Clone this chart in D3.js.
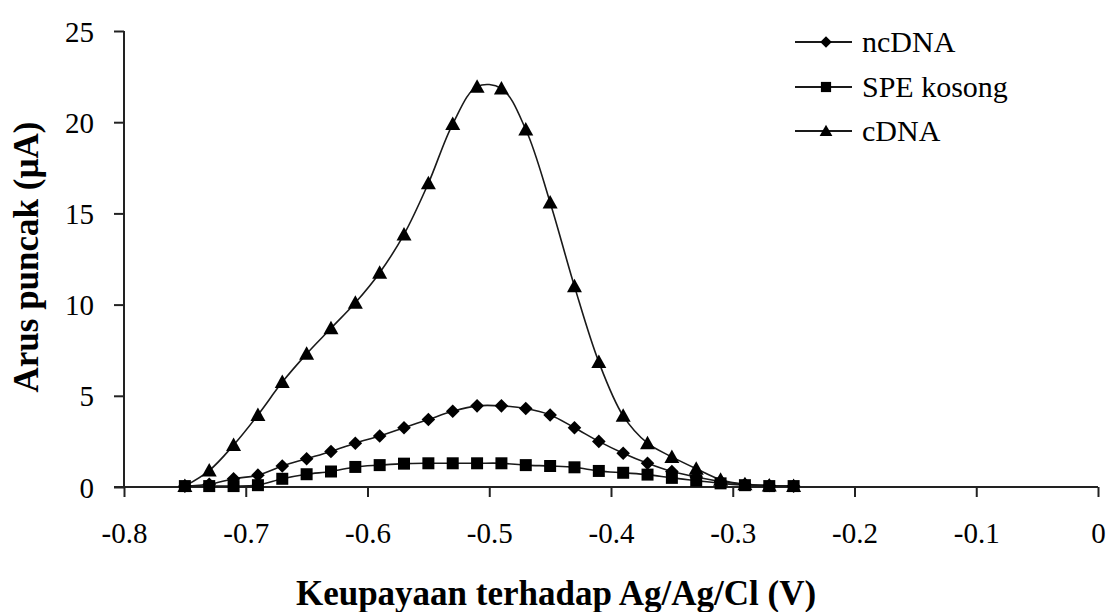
<!DOCTYPE html>
<html>
<head>
<meta charset="utf-8">
<script src="https://cdn.jsdelivr.net/npm/d3@7"></script>
<style>
  html, body { margin: 0; padding: 0; background: #fff; }
  svg { display: block; }
  text { font-family: "Liberation Serif", "Times New Roman", serif; fill: #000; }
</style>
</head>
<body>
<svg id="chart" width="1106" height="612"></svg>
<script>
const potentials = [-0.75, -0.73, -0.71, -0.69, -0.67, -0.65, -0.63, -0.61, -0.59, -0.57, -0.55, -0.53, -0.51,
                    -0.49, -0.47, -0.45, -0.43, -0.41, -0.39, -0.37, -0.35, -0.33, -0.31, -0.29, -0.27, -0.25];
const ncDNA = [0.05, 0.15, 0.45, 0.65, 1.15, 1.55, 1.95, 2.4, 2.8, 3.25, 3.7, 4.15, 4.45,
               4.45, 4.3, 3.95, 3.25, 2.5, 1.85, 1.3, 0.85, 0.55, 0.3, 0.15, 0.08, 0.05];
const speKosong = [0.05, 0.05, 0.05, 0.1, 0.45, 0.7, 0.85, 1.1, 1.2, 1.28, 1.3, 1.3, 1.3,
                   1.3, 1.2, 1.15, 1.08, 0.88, 0.78, 0.68, 0.5, 0.35, 0.2, 0.1, 0.05, 0.05];
const cDNA = [0.05, 0.9, 2.3, 3.95, 5.75, 7.3, 8.7, 10.1, 11.75, 13.85, 16.65, 19.9, 21.95,
              21.85, 19.6, 15.6, 11.0, 6.85, 3.9, 2.4, 1.65, 1.0, 0.4, 0.15, 0.08, 0.05];
const seriesNames = ["ncDNA", "SPE kosong", "cDNA"];
const xTicks = [-0.8, -0.7, -0.6, -0.5, -0.4, -0.3, -0.2, -0.1, 0];
const xTickLabels = ["-0.8", "-0.7", "-0.6", "-0.5", "-0.4", "-0.3", "-0.2", "-0.1", "0"];
const yTicks = [0, 5, 10, 15, 20, 25];
const xTitle = "Keupayaan terhadap Ag/Ag/Cl (V)";
const yTitle = "Arus puncak (\u00B5A)";

const svg = d3.select("#chart");
const x = d3.scaleLinear().domain([-0.8, 0]).range([124, 1098]);
const y = d3.scaleLinear().domain([0, 25]).range([487, 31]);

// markers
const markerPath = {
  diamond: "M0,-6.8L6.8,0L0,6.8L-6.8,0Z",
  square: "M-6,-6H6V6H-6Z",
  triangle: "M0,-7.5L7.5,6H-7.5Z"
};
const series = [
  { name: seriesNames[0], values: ncDNA, marker: "diamond" },
  { name: seriesNames[1], values: speKosong, marker: "square" },
  { name: seriesNames[2], values: cDNA, marker: "triangle" }
];

// axes
const yAxis = d3.axisLeft(y).tickValues(yTicks).tickSize(10).tickPadding(20).tickFormat(d3.format("d"));
const gy = svg.append("g").attr("transform", `translate(${x(-0.8)},0)`).call(yAxis);
const xAxis = d3.axisBottom(x).tickValues(xTicks).tickSize(10).tickPadding(25)
  .tickFormat((d, i) => xTickLabels[i]);
const gx = svg.append("g").attr("transform", `translate(0,${y(0)})`).call(xAxis);
[gx, gy].forEach(g => {
  g.select(".domain").attr("stroke", "#222").attr("stroke-width", 2);
  g.selectAll(".tick line").attr("stroke", "#222").attr("stroke-width", 2);
  g.selectAll(".tick text").attr("font-family", "Liberation Serif").attr("font-size", 29).attr("fill", "#000");
});
gy.select(".domain").attr("d", `M0,${y(25)}V${y(0)}`);
gx.select(".domain").attr("d", `M${x(-0.8) - 10},0H${x(0)}`);
gy.selectAll(".tick text").attr("dy", "0.35em");
gx.selectAll(".tick text").attr("dy", "0.71em");

// lines
const line = d3.line().x(d => x(d[0])).y(d => y(d[1])).curve(d3.curveCatmullRom.alpha(0.5));
series.forEach(s => {
  const pts = potentials.map((p, i) => [p, s.values[i]]);
  svg.append("path").attr("d", line(pts)).attr("fill", "none")
    .attr("stroke", "#1a1a1a").attr("stroke-width", 1.6);
});
series.forEach(s => {
  svg.append("g").selectAll("path").data(potentials.map((p, i) => [p, s.values[i]])).join("path")
    .attr("d", markerPath[s.marker])
    .attr("transform", d => `translate(${x(d[0])},${y(d[1])})`)
    .attr("fill", "#000");
});

// legend
const legendY = [42, 87, 131];
const lg = svg.append("g");
series.forEach((s, i) => {
  const g = lg.append("g").attr("transform", `translate(0,${legendY[i]})`);
  g.append("line").attr("x1", 795).attr("x2", 852).attr("y1", 0).attr("y2", 0)
    .attr("stroke", "#1a1a1a").attr("stroke-width", 2);
  g.append("path").attr("d", markerPath[s.marker]).attr("transform", "translate(826,0) scale(0.85)").attr("fill", "#000");
  g.append("text").attr("x", 862).attr("y", 0).attr("dy", "0.33em")
    .attr("font-size", 30).text(s.name);
});

// titles
svg.append("text").attr("x", 556).attr("y", 605).attr("text-anchor", "middle")
  .attr("font-size", 35).attr("font-weight", "bold").text(xTitle);
svg.append("text").attr("transform", "translate(38,257) rotate(-90)").attr("text-anchor", "middle")
  .attr("font-size", 35).attr("font-weight", "bold").text(yTitle);
</script>
</body>
</html>
